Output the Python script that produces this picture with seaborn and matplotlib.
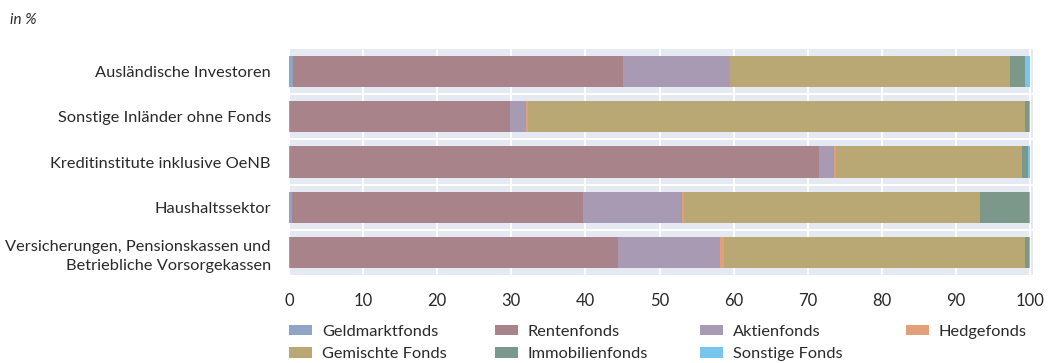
import matplotlib
matplotlib.use("Agg")
import matplotlib.pyplot as plt
from matplotlib.patches import Patch
import numpy as np
import pandas as pd
import seaborn as sns

# Sectors holding the fund shares (top to bottom)
sectors = [
    "Ausländische Investoren",
    "Sonstige Inländer ohne Fonds",
    "Kreditinstitute inklusive OeNB",
    "Haushaltssektor",
    "Versicherungen, Pensionskassen und\nBetriebliche Vorsorgekassen",
]

# Shares by fund type, in %
geldmarktfonds = [0.5, 0.1, 0.1, 0.4, 0.1]
rentenfonds = [44.6, 29.7, 71.4, 39.3, 44.3]
aktienfonds = [14.4, 2.2, 2.0, 13.3, 13.8]
hedgefonds = [0.0, 0.3, 0.3, 0.3, 0.5]
gemischte_fonds = [37.8, 67.0, 25.1, 40.0, 40.6]
immobilienfonds = [2.0, 0.5, 0.8, 6.5, 0.5]
sonstige_fonds = [0.7, 0.2, 0.3, 0.2, 0.2]

fund_types = ["Geldmarktfonds", "Rentenfonds", "Aktienfonds", "Hedgefonds",
              "Gemischte Fonds", "Immobilienfonds", "Sonstige Fonds"]
series = [geldmarktfonds, rentenfonds, aktienfonds, hedgefonds,
          gemischte_fonds, immobilienfonds, sonstige_fonds]
colors = ["#8fa5c5", "#a88389", "#a99ab3", "#e3a078",
          "#b9a774", "#7b988a", "#78c6ee"]

x_ticks = [0, 10, 20, 30, 40, 50, 60, 70, 80, 90, 100]

sns.set_theme(style="white")
plt.rcParams["font.family"] = ["Lato", "DejaVu Sans"]
text_color = "#2a2a2a"

df = pd.DataFrame(dict(zip(fund_types, series)), index=sectors)
cum = df.cumsum(axis=1)

fig = plt.figure(figsize=(10.5, 3.63), dpi=100)
ax = fig.add_axes([289 / 1050, 88 / 363, 744 / 1050, 226 / 363])

band = "#e5eaf2"
ax.set_facecolor(band)

# Stacked bars: draw cumulative totals from the outermost segment inward
for name, color in reversed(list(zip(fund_types, colors))):
    plot_df = pd.DataFrame({"sector": sectors, "value": cum[name].values})
    sns.barplot(data=plot_df, x="value", y="sector", color=color,
                width=0.69, ax=ax, saturation=1, linewidth=0, zorder=3)

ax.set_xlim(0, 100.4)
ax.set_ylim(4.5, -0.5)
ax.set_xticks(x_ticks)
ax.set_xticklabels([str(t) for t in x_ticks])

# White vertical grid and row separators on the tinted background
for t in x_ticks:
    ax.axvline(t, color="white", lw=1.3, zorder=1)
for y in np.arange(0.5, len(sectors) - 0.5, 1.0):
    ax.axhline(y, color="white", lw=1.4, zorder=2)

for s in ax.spines.values():
    s.set_visible(False)
ax.set_xlabel("")
ax.set_ylabel("")
ax.tick_params(axis="both", length=0, labelcolor=text_color)
ax.tick_params(axis="x", pad=13, labelsize=12)
ax.tick_params(axis="y", pad=13, labelsize=11.8)
for lbl in ax.get_yticklabels():
    lbl.set_linespacing(1.45)

fig.text(10 / 1050, 1 - 20 / 363, "in %", fontsize=11, style="italic",
         color=text_color, va="center")

# Legend laid out as four fixed columns
columns = [[0, 4], [1, 5], [2, 6], [3]]
col_x = [289, 495, 700, 906]
for xpos, idxs in zip(col_x, columns):
    handles = [Patch(facecolor=colors[i], edgecolor="none", label=fund_types[i])
               for i in idxs]
    leg = fig.legend(handles=handles, loc="upper left",
                     bbox_to_anchor=(xpos / 1050, 1 - 325 / 363),
                     frameon=False, fontsize=11.8, handlelength=1.4,
                     handleheight=0.6, handletextpad=0.6, labelspacing=0.5,
                     borderaxespad=0, borderpad=0, labelcolor=text_color)

fig.savefig("out.png", dpi=100)
